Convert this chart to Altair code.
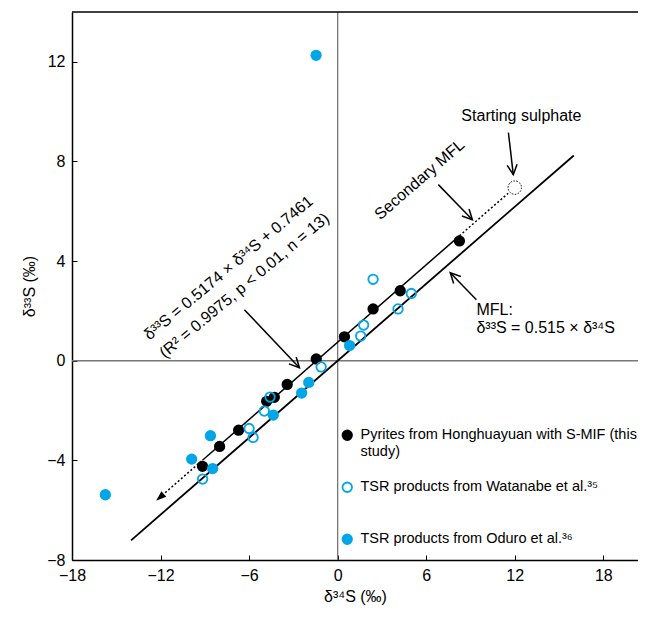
import math
import altair as alt
import pandas as pd

BLUE = "#00A6E6"
FONT = "Liberation Sans"

# ---------------- data ----------------
series_names = [
    "Pyrites from Honghuayuan with S-MIF (this study)",
    "TSR products from Watanabe et al.³⁵",
    "TSR products from Oduro et al.³⁶",
]

pyrite_d34 = [8.25, 4.24, 2.40, 0.46, -1.45, -3.42, -4.29, -4.81, -6.71, -8.00, -9.16]
pyrite_d33 = [4.81, 2.81, 2.08, 0.96, 0.07, -0.95, -1.47, -1.63, -2.79, -3.44, -4.24]

watanabe_d34 = [2.40, 4.99, 4.09, 1.76, 1.56, -1.12, -4.58, -4.97, -6.00, -5.73, -9.15]
watanabe_d33 = [3.27, 2.70, 2.08, 1.43, 0.99, -0.25, -1.46, -2.02, -2.72, -3.08, -4.75]

oduro_d34 = [-1.46, -15.74, -1.96, -2.44, -4.36, -8.62, -9.89, -8.47, 0.81]
oduro_d33 = [12.26, -5.38, -0.87, -1.30, -2.18, -3.01, -3.95, -4.33, 0.61]

start_d34 = [12.0]
start_d33 = [6.95]

mfl_slope = 0.515
mfl_x = [-14.0, 16.0]
sec_slope = 0.5174
sec_icpt = 0.7461
sec_dotted_lo = [-11.9, -9.16]
sec_solid = [-9.16, 8.25]
sec_dotted_hi = [8.25, 11.55]
sec_arrow_tip = [-12.3]

x_ticks = [-18, -12, -6, 0, 6, 12, 18]
y_ticks = [-8, -4, 0, 4, 8, 12]
X_DOMAIN = [-18, 20.35]
Y_DOMAIN = [-8, 14]

arrow_x1 = [11.57, 6.82, 9.40, -6.32]
arrow_y1 = [9.16, 7.07, 2.45, 2.05]
arrow_x2 = [11.90, 9.13, 7.63, -2.59]
arrow_y2 = [7.47, 5.66, 3.53, -0.28]

rot_texts = ["Secondary MFL",
             "δ³³S = 0.5174 × δ³⁴S + 0.7461",
             "(R² = 0.9975, p < 0.01, n = 13)",
             "Starting sulphate"]
rot_x = [5.55, -7.39, -6.32, 12.45]
rot_y = [7.27, 3.72, 3.02, 9.84]
rot_angle = [319, 320, 320, 0]

mfl_texts = ["MFL:", "δ³³S = 0.515 × δ³⁴S"]
mfl_tx = [9.40, 9.40]
mfl_ty = [2.05, 1.33]

# ---------------- layout ----------------
W, H = 566, 548
kx = W / (X_DOMAIN[1] - X_DOMAIN[0])
ky = H / (Y_DOMAIN[1] - Y_DOMAIN[0])


def screen_angle(x1, y1, x2, y2):
    dxp = (x2 - x1) * kx
    dyp = -(y2 - y1) * ky
    return math.degrees(math.atan2(dxp, -dyp)) % 360


xs = alt.Scale(domain=X_DOMAIN, nice=False, zero=False)
ys = alt.Scale(domain=Y_DOMAIN, nice=False, zero=False)

pts = pd.concat([
    pd.DataFrame({"x": pyrite_d34, "y": pyrite_d33, "series": series_names[0]}),
    pd.DataFrame({"x": watanabe_d34, "y": watanabe_d33, "series": series_names[1]}),
    pd.DataFrame({"x": oduro_d34, "y": oduro_d33, "series": series_names[2]}),
], ignore_index=True)
pts["order"] = pts["series"].map({s: i for i, s in enumerate(series_names)})

legend = alt.Legend(
    title=None, orient="none", legendX=268, legendY=416,
    labelFont=FONT, labelFontSize=14.5, labelColor="black",
    labelLimit=400, symbolSize=90, symbolStrokeWidth=1.8, symbolType="circle",
    rowPadding=19, labelOffset=6, padding=0,
    labelExpr=("datum.label == '" + series_names[0] + "' ? "
               "['Pyrites from Honghuayuan with S-MIF (this', 'study)'] : [datum.label, '']"),
)

fill_scale = alt.Scale(domain=series_names, range=["black", "transparent", BLUE])
stroke_scale = alt.Scale(domain=series_names, range=["black", BLUE, BLUE])

points = alt.Chart(pts).mark_point(shape="circle", size=90, strokeWidth=1.8, opacity=1).encode(
    x=alt.X("x:Q", scale=xs, axis=alt.Axis(
        orient="bottom", values=x_ticks, ticks=False, tickSize=0, labelPadding=7,
        labelFlush=False, title="δ³⁴S (‰)", titlePadding=5,
        domainColor="black", domainWidth=1.5)),
    y=alt.Y("y:Q", scale=ys, axis=alt.Axis(
        orient="left", values=y_ticks, ticks=False, tickSize=0, labelPadding=7,
        labelFlush=False, title="δ³³S (‰)", titlePadding=9,
        domainColor="black", domainWidth=1.5)),
    fill=alt.Fill("series:N", scale=fill_scale, legend=legend),
    stroke=alt.Stroke("series:N", scale=stroke_scale, legend=legend),
    order=alt.Order("order:Q"),
)

zero_x = alt.Chart(pd.DataFrame({"v": [0]})).mark_rule(color="#777777", strokeWidth=1.3).encode(
    x=alt.X("v:Q", scale=xs, axis=None))
zero_y = alt.Chart(pd.DataFrame({"v": [0]})).mark_rule(color="#777777", strokeWidth=1.3).encode(
    y=alt.Y("v:Q", scale=ys, axis=None))
top_border = alt.Chart(pd.DataFrame({"v": [Y_DOMAIN[1]]})).mark_rule(color="black", strokeWidth=1.5).encode(
    y=alt.Y("v:Q", scale=ys, axis=None))

mfl_df = pd.DataFrame({"x": mfl_x})
mfl = alt.Chart(mfl_df).transform_calculate(y=f"{mfl_slope} * datum.x").mark_line(
    color="black", strokeWidth=1.8).encode(
    x=alt.X("x:Q", scale=xs, axis=alt.Axis(
        orient="top", offset=-H, values=x_ticks, labels=False, domain=False,
        ticks=True, tickSize=5, tickColor="black", tickWidth=1, title=None)),
    y=alt.Y("y:Q", scale=ys, axis=alt.Axis(
        orient="right", offset=-W, values=y_ticks, labels=False, domain=False,
        ticks=True, tickSize=5, tickColor="black", tickWidth=1, title=None)),
)


def sec_line(xvals, dash, seg):
    df = pd.DataFrame({"x": xvals, "seg": seg})
    kw = dict(color="black", strokeWidth=1.5)
    if dash:
        kw["strokeDash"] = [2, 2.2]
    return alt.Chart(df).transform_calculate(y=f"{sec_slope} * datum.x + {sec_icpt}").mark_line(**kw).encode(
        x=alt.X("x:Q", scale=xs, axis=None), y=alt.Y("y:Q", scale=ys, axis=None), detail="seg:N")


sec_lo = sec_line(sec_dotted_lo, True, "lo")
sec_mid = sec_line(sec_solid, False, "mid")
sec_hi = sec_line(sec_dotted_hi, True, "hi")

tip_angle = screen_angle(0, 0, -1, -sec_slope)
sec_head = alt.Chart(pd.DataFrame({"x": sec_arrow_tip})).transform_calculate(
    y=f"{sec_slope} * datum.x + {sec_icpt}").mark_point(
    shape="M0,0L0.36,1L-0.36,1Z", size=420, filled=True, color="black", opacity=1,
    angle=tip_angle).encode(x=alt.X("x:Q", scale=xs, axis=None), y=alt.Y("y:Q", scale=ys, axis=None))

start = alt.Chart(pd.DataFrame({"x": start_d34, "y": start_d33})).mark_point(
    shape="circle", size=180, filled=False, color="black", strokeWidth=1, strokeDash=[1.5, 1.5],
    opacity=1).encode(x=alt.X("x:Q", scale=xs, axis=None), y=alt.Y("y:Q", scale=ys, axis=None))

arr = pd.DataFrame({"x1": arrow_x1, "y1": arrow_y1, "x2": arrow_x2, "y2": arrow_y2})
arr["ang"] = [screen_angle(a, b, c, d) for a, b, c, d in zip(arrow_x1, arrow_y1, arrow_x2, arrow_y2)]
arrow_lines = alt.Chart(arr).mark_rule(color="black", strokeWidth=1.5).encode(
    x=alt.X("x1:Q", scale=xs, axis=None), y=alt.Y("y1:Q", scale=ys, axis=None),
    x2="x2:Q", y2="y2:Q")
arrow_heads = alt.Chart(arr).mark_point(
    shape="M-0.5,1L0,0L0.5,1", size=400, filled=False, color="black", strokeWidth=1.5,
    opacity=1).encode(
    x=alt.X("x2:Q", scale=xs, axis=None), y=alt.Y("y2:Q", scale=ys, axis=None),
    angle=alt.Angle("ang:Q", scale=None))

rot_df = pd.DataFrame({"t": rot_texts, "x": rot_x, "y": rot_y, "a": rot_angle})
rot_text = alt.Chart(rot_df).mark_text(font=FONT, fontSize=16, color="black", align="center",
                                        baseline="middle").encode(
    x=alt.X("x:Q", scale=xs, axis=None), y=alt.Y("y:Q", scale=ys, axis=None),
    text="t:N", angle=alt.Angle("a:Q", scale=None))

mfl_df2 = pd.DataFrame({"t": mfl_texts, "x": mfl_tx, "y": mfl_ty})
mfl_text = alt.Chart(mfl_df2).mark_text(font=FONT, fontSize=16, color="black", align="left",
                                         baseline="middle").encode(
    x=alt.X("x:Q", scale=xs, axis=None), y=alt.Y("y:Q", scale=ys, axis=None), text="t:N")

chart = alt.layer(
    zero_x, zero_y, top_border, mfl, sec_lo, sec_mid, sec_hi, sec_head, start,
    points, arrow_lines, arrow_heads, rot_text, mfl_text,
).resolve_axis(x="independent", y="independent").properties(
    width=W, height=H,
    padding={"left": 64, "top": 4, "right": 0, "bottom": 49},
    autosize=alt.AutoSizeParams(type="none"),
).configure_view(stroke=None).configure_axis(
    grid=False, labelFont=FONT, titleFont=FONT, labelFontSize=16, titleFontSize=16,
    labelColor="black", titleColor="black", titleFontWeight="normal",
)

chart.save("out.html", embed_options={"renderer": "svg", "actions": False})
